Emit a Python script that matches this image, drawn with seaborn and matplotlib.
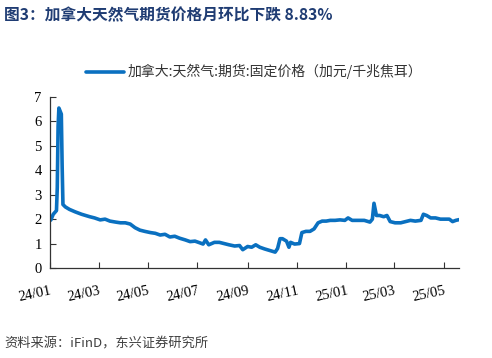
import pandas as pd
import matplotlib.pyplot as plt
import seaborn as sns

# Price readings (CAD/GJ)
dates = [
    '2024-01-02', '2024-01-05', '2024-01-09', '2024-01-10', '2024-01-11', '2024-01-12',
    '2024-01-15', '2024-01-16', '2024-01-17', '2024-01-20', '2024-01-25', '2024-02-01',
    '2024-02-09', '2024-02-19', '2024-02-25', '2024-03-03', '2024-03-09', '2024-03-15',
    '2024-03-22', '2024-03-28', '2024-04-03', '2024-04-09', '2024-04-15', '2024-04-21',
    '2024-04-27', '2024-05-04', '2024-05-10', '2024-05-16', '2024-05-22', '2024-05-28',
    '2024-06-03', '2024-06-09', '2024-06-16', '2024-06-22', '2024-06-28', '2024-07-04',
    '2024-07-08', '2024-07-11', '2024-07-15', '2024-07-22', '2024-07-28', '2024-08-03',
    '2024-08-09', '2024-08-16', '2024-08-22', '2024-08-26', '2024-09-01', '2024-09-06',
    '2024-09-11', '2024-09-16', '2024-09-22', '2024-09-28', '2024-10-05', '2024-10-08',
    '2024-10-11', '2024-10-14', '2024-10-19', '2024-10-22', '2024-10-24', '2024-10-29',
    '2024-11-04', '2024-11-07', '2024-11-12', '2024-11-17', '2024-11-22', '2024-11-27',
    '2024-12-02', '2024-12-07', '2024-12-12', '2024-12-18', '2024-12-24', '2024-12-30',
    '2025-01-03', '2025-01-08', '2025-01-15', '2025-01-23', '2025-01-30', '2025-02-02',
    '2025-02-04', '2025-02-07', '2025-02-11', '2025-02-16', '2025-02-20', '2025-02-24',
    '2025-03-02', '2025-03-09', '2025-03-15', '2025-03-21', '2025-03-27', '2025-04-03',
    '2025-04-06', '2025-04-10', '2025-04-15', '2025-04-21', '2025-04-27', '2025-05-03',
    '2025-05-08', '2025-05-12', '2025-05-16', '2025-05-20',
]
prices = [
    1.96, 2.2, 2.35, 3.3, 5.8, 6.55,
    6.3, 4.2, 2.6, 2.5, 2.4, 2.3,
    2.2, 2.1, 2.05, 1.97, 2.0, 1.92,
    1.88, 1.85, 1.85, 1.8, 1.65, 1.55,
    1.5, 1.45, 1.42, 1.35, 1.38, 1.27,
    1.3, 1.22, 1.15, 1.08, 1.1, 1.03,
    0.98, 1.15, 0.95, 1.05, 1.05, 1.0,
    0.95, 0.9, 0.92, 0.75, 0.88, 0.85,
    0.95, 0.85, 0.78, 0.72, 0.65, 0.8,
    1.2, 1.2, 1.1, 0.85, 1.05, 0.98,
    1.0, 1.45, 1.5, 1.5, 1.6, 1.85,
    1.92, 1.92, 1.95, 1.95, 1.97, 1.95,
    2.05, 1.95, 1.95, 1.95, 1.88, 2.0,
    2.65, 2.15, 2.15, 2.1, 2.15, 1.9,
    1.85, 1.85, 1.9, 1.95, 1.92, 1.95,
    2.2, 2.15, 2.05, 2.05, 2.0, 2.0,
    2.0, 1.9, 1.95, 1.98,
]
tick_dates = ['2024-01-01', '2024-03-01', '2024-05-01', '2024-07-01', '2024-09-01',
              '2024-11-01', '2025-01-01', '2025-03-01', '2025-05-01']
tick_labels = ['24/01', '24/03', '24/05', '24/07', '24/09', '24/11', '25/01', '25/03', '25/05']
series_name = '加拿大:天然气:期货:固定价格（加元/千兆焦耳）'

df = pd.DataFrame({'date': pd.to_datetime(dates), 'price': prices})

sns.set_style('ticks')
plt.rcParams['font.family'] = ['Noto Sans CJK SC', 'DejaVu Sans']

fig = plt.figure(figsize=(4.92, 3.58), dpi=100)
ax = fig.add_axes([0.1016, 0.2514, 0.8314, 0.4776])

sns.lineplot(data=df, x='date', y='price', color='#0a70c0', linewidth=2.6,
             label=series_name, ax=ax)

ax.set_ylim(0, 7)
ax.set_yticks(range(0, 8))
ax.set_xlim(pd.Timestamp('2024-01-01'), pd.Timestamp('2025-05-20'))
ax.set_xticks(pd.to_datetime(tick_dates))
ax.set_xticklabels(tick_labels)
ax.set_xlabel('')
ax.set_ylabel('')

for lab in ax.get_xticklabels() + ax.get_yticklabels():
    lab.set_fontfamily('Liberation Serif')
    lab.set_fontsize(10.5)
    lab.set_color('black')
for lab in ax.get_xticklabels():
    lab.set_rotation(12)
    lab.set_ha('right')
    lab.set_rotation_mode('anchor')

ax.tick_params(axis='both', direction='in', length=4, width=0.8, color='#333333')
ax.tick_params(axis='x', pad=12)
ax.tick_params(axis='y', pad=6)
sns.despine(ax=ax)
for s in ['left', 'bottom']:
    ax.spines[s].set_color('#333333')
    ax.spines[s].set_linewidth(0.9)

leg = ax.legend(loc='lower center', bbox_to_anchor=(0.5, 1.03), frameon=False,
                fontsize=10, handlelength=2.7, handletextpad=0.3)
for t in leg.get_texts():
    t.set_color('#333333')

fig.text(0.008, 0.958, '图3：加拿大天然气期货价格月环比下跌 8.83%', fontsize=11.3,
         fontweight='bold', color='#1f3c73', ha='left', va='center')
fig.text(0.008, 0.04, '资料来源：iFinD，东兴证券研究所', fontsize=9.5,
         style='italic', color='#404040', ha='left', va='center')

fig.savefig('out.png', dpi=100)
